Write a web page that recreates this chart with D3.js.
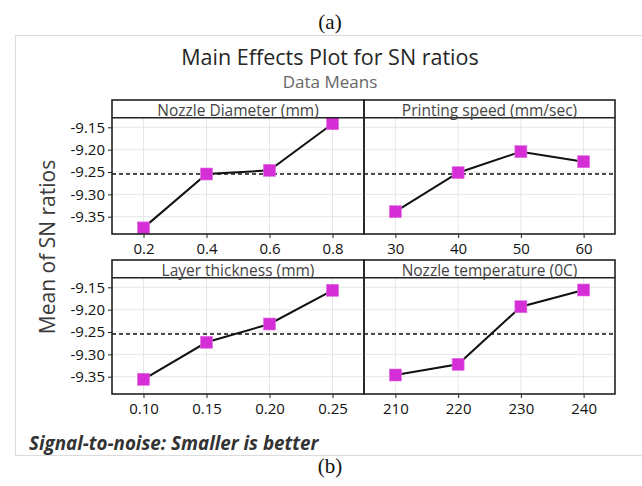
<!DOCTYPE html>
<html><head><meta charset="utf-8">
<script src="https://cdn.jsdelivr.net/npm/d3@7"></script>
<style>
html,body{margin:0;padding:0;background:#fff;}
svg{display:block;}
</style></head>
<body>
<script>
// ---- data ----
const panelTitles = ["Nozzle Diameter (mm)", "Printing speed (mm/sec)", "Layer thickness (mm)", "Nozzle temperature (0C)"];
const levelsNozzle = ["0.2", "0.4", "0.6", "0.8"];
const levelsSpeed = ["30", "40", "50", "60"];
const levelsLayer = ["0.10", "0.15", "0.20", "0.25"];
const levelsTemp = ["210", "220", "230", "240"];
const snNozzle = [-9.375, -9.2545, -9.2463, -9.142];
const snSpeed = [-9.3388, -9.2515, -9.2045, -9.227];
const snLayer = [-9.3558, -9.273, -9.2321, -9.1567];
const snTemp = [-9.3462, -9.3223, -9.1934, -9.156];
const overallMean = -9.2545;
const yTicks = [-9.15, -9.20, -9.25, -9.30, -9.35];
const yDomain = [-9.3887, -9.1285];

const W = 642, H = 486;
const svg = d3.select("body").append("svg").attr("width", W).attr("height", H);
const sans = "'Open Sans', 'Noto Sans', sans-serif";
const serif = "'Liberation Serif', 'DejaVu Serif', serif";

// caption (a)
svg.append("text").attr("x", 330).attr("y", 29).attr("text-anchor", "middle")
  .attr("font-family", serif).attr("font-size", 21).attr("fill", "#111").text("(a)");
// (b)
svg.append("text").attr("x", 330).attr("y", 473).attr("text-anchor", "middle")
  .attr("font-family", serif).attr("font-size", 21).attr("fill", "#111").text("(b)");

// outer gray frame
svg.append("rect").attr("x", 15.5).attr("y", 35.5).attr("width", 700).attr("height", 420)
  .attr("fill", "none").attr("stroke", "#dcdcdc").attr("stroke-width", 1.2);

// titles
svg.append("text").attr("x", 330).attr("y", 65).attr("text-anchor", "middle")
  .attr("font-family", sans).attr("font-size", 21.5).attr("fill", "#262626").text("Main Effects Plot for SN ratios");
svg.append("text").attr("x", 330).attr("y", 88).attr("text-anchor", "middle")
  .attr("font-family", sans).attr("font-size", 17).attr("fill", "#666").text("Data Means");

// y axis label
svg.append("text").attr("transform", "translate(55,247) rotate(-90)").attr("text-anchor", "middle")
  .attr("font-family", sans).attr("font-size", 21).attr("fill", "#3a3a3a").text("Mean of SN ratios");

// footer
svg.append("text").attr("x", 29).attr("y", 450).attr("font-family", sans).attr("font-size", 18.8)
  .attr("font-weight", "bold").attr("font-style", "italic").attr("fill", "#333")
  .text("Signal-to-noise: Smaller is better");

const colsX = [[112, 364], [364, 615]];
const rows = [{strip: 100, top: 117.7, bottom: 234}, {strip: 260, top: 277.7, bottom: 394}];
const panels = [
  {title: panelTitles[0], levels: levelsNozzle, values: snNozzle, c: 0, r: 0},
  {title: panelTitles[1], levels: levelsSpeed, values: snSpeed, c: 1, r: 0},
  {title: panelTitles[2], levels: levelsLayer, values: snLayer, c: 0, r: 1},
  {title: panelTitles[3], levels: levelsTemp, values: snTemp, c: 1, r: 1}
];

panels.forEach(p => {
  const [x0, x1] = colsX[p.c];
  const row = rows[p.r];
  const x = d3.scalePoint().domain(p.levels).range([x0, x1]).padding(0.5);
  const y = d3.scaleLinear().domain(yDomain).range([row.bottom, row.top]);
  const g = svg.append("g");

  // grid
  g.selectAll(".gx").data(p.levels).enter().append("line")
    .attr("x1", d => x(d)).attr("x2", d => x(d)).attr("y1", row.top).attr("y2", row.bottom)
    .attr("stroke", "#e6e6e6").attr("stroke-width", 1);
  g.selectAll(".gy").data(yTicks).enter().append("line")
    .attr("x1", x0).attr("x2", x1).attr("y1", d => y(d)).attr("y2", d => y(d))
    .attr("stroke", "#e6e6e6").attr("stroke-width", 1);

  // reference mean line
  g.append("line").attr("x1", x0).attr("x2", x1).attr("y1", y(overallMean)).attr("y2", y(overallMean))
    .attr("stroke", "#111").attr("stroke-width", 1.4).attr("stroke-dasharray", "4,3");

  // x axis
  const xa = g.append("g").attr("transform", `translate(0,${row.bottom})`)
    .call(d3.axisBottom(x).tickSize(4).tickPadding(5));
  xa.select(".domain").remove();
  xa.selectAll("line").attr("stroke", "#222");
  xa.selectAll("text").attr("font-family", sans).attr("font-size", 15).attr("fill", "#111");

  // y axis (left column only)
  if (p.c === 0) {
    const ya = g.append("g").attr("transform", `translate(${x0},0)`)
      .call(d3.axisLeft(y).tickValues(yTicks).tickFormat(d3.format(".2f")).tickSize(4).tickPadding(3));
    ya.select(".domain").remove();
    ya.selectAll("line").attr("stroke", "#222");
    ya.selectAll("text").attr("font-family", sans).attr("font-size", 15).attr("fill", "#111")
      .text(d => d3.format(".2f")(d).replace("−", "-"));
  }

  // line
  const pts = p.levels.map((l, i) => [x(l), y(p.values[i])]);
  g.append("path").attr("d", d3.line()(pts)).attr("fill", "none").attr("stroke", "#111").attr("stroke-width", 2);
  const s = 12;
  g.selectAll(".pt").data(pts).enter().append("rect")
    .attr("x", d => d[0] - s / 2).attr("y", d => d[1] - s / 2).attr("width", s).attr("height", s)
    .attr("fill", "#d62ed6").attr("stroke", "#e070e0").attr("stroke-width", 0.6);

  // frame and strip
  g.append("rect").attr("x", x0).attr("y", row.strip).attr("width", x1 - x0).attr("height", row.bottom - row.strip)
    .attr("fill", "none").attr("stroke", "#222").attr("stroke-width", 1.6);
  g.append("line").attr("x1", x0).attr("x2", x1).attr("y1", row.top).attr("y2", row.top)
    .attr("stroke", "#222").attr("stroke-width", 1.6);
  g.append("text").attr("x", (x0 + x1) / 2).attr("y", row.top - 1.5).attr("text-anchor", "middle")
    .attr("font-family", sans).attr("font-size", 15.5).attr("fill", "#444").text(p.title);
});
</script>
</body></html>
